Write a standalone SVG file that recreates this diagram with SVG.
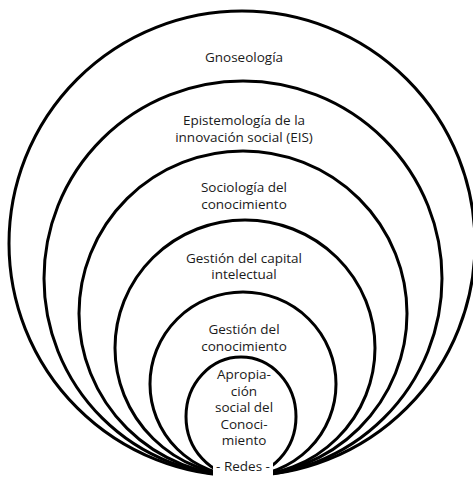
<svg xmlns="http://www.w3.org/2000/svg" width="473" height="479" viewBox="0 0 473 479">
<style>
.ring{fill:none;stroke:#000;stroke-width:3}
.t{font-family:"Open Sans","Liberation Sans",sans-serif;font-size:13.5px;fill:#1a1a1a;text-anchor:middle}
</style>
<rect width="473" height="479" fill="#fff"/>
<g id="gnoseologia">
<ellipse class="ring" cx="242" cy="243.5" rx="233" ry="232.5"/>
<text class="t" x="244" y="62">Gnoseología</text>
</g>
<g id="eis">
<ellipse class="ring" cx="243" cy="278.5" rx="199" ry="197.5"/>
<text class="t" x="244" y="125">Epistemología de la</text>
<text class="t" x="244" y="141.5">innovación social (EIS)</text>
</g>
<g id="sociologia">
<ellipse class="ring" cx="243" cy="313.5" rx="164" ry="162.5"/>
<text class="t" x="244" y="192">Sociología del</text>
<text class="t" x="244" y="208.5">conocimiento</text>
</g>
<g id="capital">
<ellipse class="ring" cx="245" cy="348" rx="130" ry="128"/>
<text class="t" x="244" y="262.5">Gestión del capital</text>
<text class="t" x="244" y="279">intelectual</text>
</g>
<g id="gestion">
<ellipse class="ring" cx="243" cy="384" rx="93" ry="92"/>
<text class="t" x="244" y="334">Gestión del</text>
<text class="t" x="244" y="350.5">conocimiento</text>
</g>
<g id="apropiacion">
<ellipse class="ring" cx="241" cy="416.5" rx="55" ry="59.5"/>
<text class="t" x="244" y="379">Apropia-</text>
<text class="t" x="244" y="395.5">ción</text>
<text class="t" x="244" y="412">social del</text>
<text class="t" x="244" y="428.5">Conoci-</text>
<text class="t" x="244" y="445">miento</text>
<rect x="213" y="459" width="60" height="20" fill="#fff"/>
<text class="t" x="243" y="471">- Redes -</text>
</g>
</svg>
